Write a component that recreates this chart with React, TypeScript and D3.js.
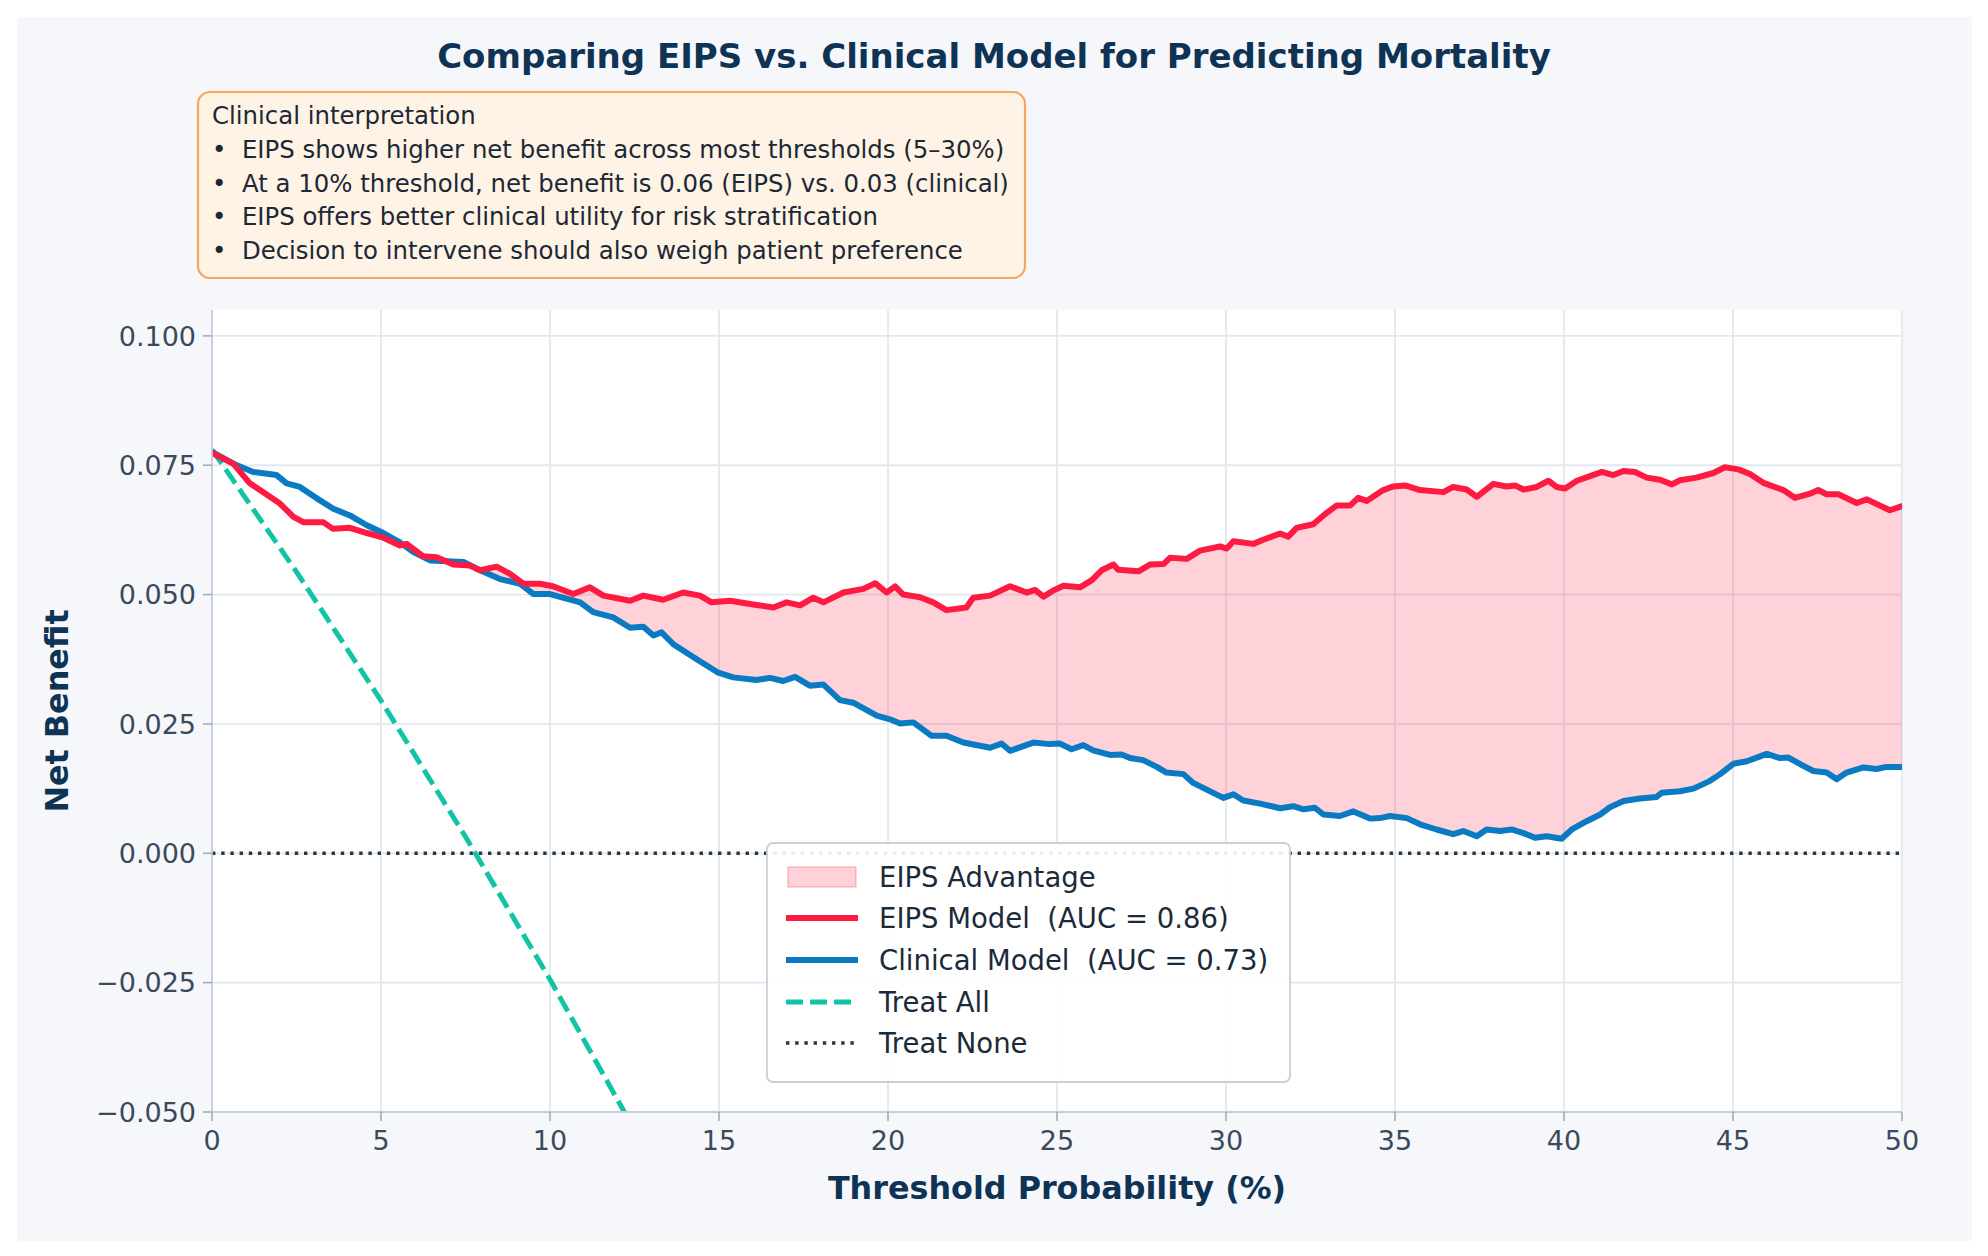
import React from "react";
import * as d3 from "d3";

// Decision-curve readings (threshold %, net benefit)
const EIPS_CURVE: [number, number][] = [
  [0, 0.0774], [0.63, 0.0753], [1.12, 0.0715], [1.42, 0.0702], [2.01, 0.0676],
  [2.41, 0.065], [2.7, 0.064], [3.29, 0.064], [3.58, 0.0627], [4.08, 0.0629],
  [4.58, 0.0619], [5.07, 0.061], [5.56, 0.0595], [5.76, 0.0598], [6.25, 0.0574],
  [6.65, 0.0572], [7.14, 0.0558], [7.63, 0.0556], [7.93, 0.0547], [8.42, 0.0554],
  [8.82, 0.054], [9.21, 0.0521], [9.7, 0.0521], [10.09, 0.0516], [10.69, 0.0501],
  [11.18, 0.0514], [11.58, 0.0498], [12.37, 0.0488], [12.76, 0.0498], [13.35, 0.049],
  [13.94, 0.0504], [14.44, 0.0498], [14.78, 0.0485], [15.33, 0.0488], [16.11, 0.048],
  [16.61, 0.0475], [17.0, 0.0485], [17.4, 0.0479], [17.79, 0.0494], [18.09, 0.0485],
  [18.68, 0.0504], [19.27, 0.0511], [19.62, 0.0522], [19.96, 0.0504], [20.21, 0.0516],
  [20.45, 0.05], [20.95, 0.0495], [21.34, 0.0485], [21.73, 0.047], [22.32, 0.0475],
  [22.52, 0.0494], [23.02, 0.0498], [23.61, 0.0516], [24.1, 0.0504], [24.35, 0.0509],
  [24.6, 0.0496], [24.89, 0.0508], [25.19, 0.0517], [25.68, 0.0514], [26.03, 0.0528],
  [26.32, 0.0547], [26.67, 0.0558], [26.81, 0.0548], [27.41, 0.0545], [27.75, 0.0558],
  [28.15, 0.0559], [28.34, 0.0571], [28.84, 0.0569], [29.23, 0.0585], [29.82, 0.0593],
  [30.02, 0.0589], [30.22, 0.0603], [30.81, 0.0598], [31.1, 0.0606], [31.6, 0.0618],
  [31.84, 0.0612], [32.09, 0.0629], [32.58, 0.0636], [32.98, 0.0658], [33.27, 0.0672],
  [33.67, 0.0672], [33.91, 0.0687], [34.16, 0.0681], [34.65, 0.0702], [34.95, 0.0709],
  [35.3, 0.0711], [35.74, 0.0702], [36.43, 0.0698], [36.72, 0.0708], [37.12, 0.0703],
  [37.42, 0.0689], [37.91, 0.0714], [38.3, 0.0709], [38.55, 0.0711], [38.8, 0.0703],
  [39.19, 0.0708], [39.54, 0.072], [39.78, 0.0708], [40.03, 0.0705], [40.38, 0.072],
  [40.77, 0.0729], [41.12, 0.0737], [41.46, 0.0731], [41.76, 0.0739], [42.1, 0.0737],
  [42.45, 0.0726], [42.84, 0.0722], [43.19, 0.0713], [43.43, 0.0721], [43.92, 0.0726],
  [44.42, 0.0735], [44.76, 0.0746], [45.16, 0.0742], [45.5, 0.0733], [45.9, 0.0716],
  [46.49, 0.0702], [46.83, 0.0687], [47.28, 0.0695], [47.52, 0.0702], [47.77, 0.0694],
  [48.12, 0.0694], [48.66, 0.0677], [48.96, 0.0684], [49.64, 0.0663], [50.0, 0.0671],
];

const CLINICAL_CURVE: [number, number][] = [
  [0, 0.0776], [0.63, 0.0753], [1.22, 0.0737], [1.91, 0.0731], [2.21, 0.0715],
  [2.6, 0.0708], [3.1, 0.0686], [3.59, 0.0666], [4.08, 0.0653], [4.58, 0.0634],
  [5.07, 0.0619], [5.56, 0.0601], [5.96, 0.0582], [6.45, 0.0566], [7.44, 0.0563],
  [7.93, 0.0547], [8.52, 0.053], [9.11, 0.0521], [9.51, 0.0501], [10.0, 0.0501],
  [10.49, 0.0492], [10.89, 0.0485], [11.28, 0.0466], [11.87, 0.0456], [12.37, 0.0436],
  [12.76, 0.0438], [13.06, 0.0421], [13.3, 0.0427], [13.65, 0.0404], [14.34, 0.0375],
  [14.98, 0.0349], [15.42, 0.034], [16.11, 0.0335], [16.51, 0.0339], [16.9, 0.0333],
  [17.25, 0.0341], [17.69, 0.0324], [18.09, 0.0326], [18.58, 0.0296], [18.97, 0.0291],
  [19.67, 0.0266], [20.06, 0.0259], [20.36, 0.0251], [20.75, 0.0253], [21.29, 0.0227],
  [21.73, 0.0227], [22.23, 0.0214], [23.02, 0.0204], [23.36, 0.0212], [23.61, 0.0198],
  [24.3, 0.0214], [24.79, 0.0211], [25.09, 0.0212], [25.43, 0.0201], [25.78, 0.0209],
  [26.07, 0.0199], [26.57, 0.019], [26.91, 0.0191], [27.16, 0.0184], [27.55, 0.018],
  [27.95, 0.0167], [28.24, 0.0156], [28.74, 0.0153], [29.03, 0.0136], [29.43, 0.0123],
  [29.92, 0.0107], [30.22, 0.0114], [30.51, 0.0102], [31.01, 0.0096], [31.6, 0.0087],
  [31.99, 0.0091], [32.29, 0.0085], [32.63, 0.0088], [32.88, 0.0075], [33.37, 0.0072],
  [33.77, 0.0081], [34.26, 0.0067], [34.56, 0.0068], [34.85, 0.0072], [35.35, 0.0068],
  [35.74, 0.0056], [36.23, 0.0046], [36.72, 0.0037], [37.02, 0.0043], [37.42, 0.0033],
  [37.71, 0.0046], [38.11, 0.0043], [38.45, 0.0046], [38.8, 0.0039], [39.14, 0.003],
  [39.49, 0.0033], [39.93, 0.0028], [40.23, 0.0046], [40.67, 0.0062], [41.07, 0.0075],
  [41.36, 0.0089], [41.76, 0.0101], [42.25, 0.0106], [42.74, 0.0109], [42.89, 0.0117],
  [43.43, 0.012], [43.83, 0.0125], [44.32, 0.014], [44.62, 0.0153], [45.01, 0.0173],
  [45.41, 0.0178], [45.7, 0.0185], [46.0, 0.0192], [46.39, 0.0184], [46.64, 0.0185],
  [47.08, 0.0169], [47.38, 0.0159], [47.77, 0.0156], [48.07, 0.0143], [48.36, 0.0156],
  [48.86, 0.0166], [49.25, 0.0163], [49.54, 0.0167], [50.0, 0.0167],
];

const TREAT_ALL: [number, number][] = [
  [0, 0.078], [2.5, 0.0544], [5, 0.0295], [7.5, 0.0032], [10, -0.0244], [12.2, -0.05], [13, -0.0598],
];

const X_TICKS = [0, 5, 10, 15, 20, 25, 30, 35, 40, 45, 50];
const Y_TICKS = [-0.05, -0.025, 0, 0.025, 0.05, 0.075, 0.1];

const NOTE_TITLE = "Clinical interpretation";
const NOTE_LINES = [
  "EIPS shows higher net benefit across most thresholds (5\u201330%)",
  "At a 10% threshold, net benefit is 0.06 (EIPS) vs. 0.03 (clinical)",
  "EIPS offers better clinical utility for risk stratification",
  "Decision to intervene should also weigh patient preference",
];

const LEGEND_LABELS = [
  "EIPS Advantage",
  "EIPS Model  (AUC = 0.86)",
  "Clinical Model  (AUC = 0.73)",
  "Treat All",
  "Treat None",
];

const W = 1988;
const H = 1256;
const FONT = "DejaVu Sans, sans-serif";
const NAVY = "#0f3354";
const RED = "#ff1a42";
const BLUE = "#0a7bc2";
const TEAL = "#12c4a6";
const LW = 6;

const x = d3.scaleLinear().domain([0, 50]).range([212, 1902]);
const y = d3.scaleLinear().domain([-0.05, 0.105]).range([1112, 310]);

// linear lookup used to build the shaded band between the two curves
function interp(curve: [number, number][], t: number) {
  const i = d3.bisector((d: [number, number]) => d[0]).left(curve, t);
  if (i <= 0) return curve[0][1];
  if (i >= curve.length) return curve[curve.length - 1][1];
  const [x0, y0] = curve[i - 1];
  const [x1, y1] = curve[i];
  return y0 + ((y1 - y0) * (t - x0)) / (x1 - x0);
}

function bandPoints() {
  const xs = Array.from(new Set([...EIPS_CURVE.map((d) => d[0]), ...CLINICAL_CURVE.map((d) => d[0])])).sort(
    (a, b) => a - b
  );
  const pts: { t: number; lo: number; hi: number }[] = [];
  let prev: { t: number; diff: number } | null = null;
  xs.forEach((t) => {
    const r = interp(EIPS_CURVE, t);
    const b = interp(CLINICAL_CURVE, t);
    const diff = r - b;
    if (prev && prev.diff * diff < 0) {
      const tc = prev.t + ((t - prev.t) * prev.diff) / (prev.diff - diff);
      const bc = interp(CLINICAL_CURVE, tc);
      pts.push({ t: tc, lo: bc, hi: bc });
    }
    pts.push({ t, lo: b, hi: Math.max(r, b) });
    prev = { t, diff };
  });
  return pts;
}

export default function App() {
  const line = d3
    .line<[number, number]>()
    .x((d) => x(d[0]))
    .y((d) => y(d[1]));
  const band = d3
    .area<{ t: number; lo: number; hi: number }>()
    .x((d) => x(d.t))
    .y0((d) => y(d.lo))
    .y1((d) => y(d.hi));

  const [x0, x1] = x.range();
  const [yb, yt] = y.range();
  const legendRows = [877, 918, 960, 1002, 1043];

  return (
    <div style={{ position: "absolute", left: 0, top: 0 }}>
      <svg width={W} height={H} style={{ display: "block", fontFamily: FONT }}>
        <rect width={W} height={H} fill="#ffffff" />
        <rect x={17} y={17} width={1955} height={1224} fill="#f5f7fb" />

        <text x={W / 2} y={68} textAnchor="middle" fontSize={34} fontWeight="bold" fill={NAVY}>
          Comparing EIPS vs. Clinical Model for Predicting Mortality
        </text>

        {/* interpretation box */}
        <rect x={198} y={92} width={827} height={186} rx={12} fill="#fef3e4" stroke="#f7a65c" strokeWidth={2.2} />
        <text x={212} y={124} fontSize={24.4} fill="#1d2836">
          {NOTE_TITLE}
        </text>
        {NOTE_LINES.map((s, i) => (
          <text key={s} x={212} y={158 + i * 33.7} fontSize={24.4} fill="#1d2836" xmlSpace="preserve">
            {"\u2022  " + s}
          </text>
        ))}

        {/* plot area */}
        <rect x={x0} y={yt} width={x1 - x0} height={yb - yt} fill="#ffffff" />
        <defs>
          <clipPath id="plotClip">
            <rect x={x0} y={yt} width={x1 - x0} height={yb - yt} />
          </clipPath>
        </defs>
        {X_TICKS.map((t) => (
          <line key={"gx" + t} x1={x(t)} x2={x(t)} y1={yt} y2={yb} stroke="#e2e8f0" strokeWidth={1.8} />
        ))}
        {Y_TICKS.map((t) => (
          <line key={"gy" + t} x1={x0} x2={x1} y1={y(t)} y2={y(t)} stroke="#e2e8f0" strokeWidth={1.8} />
        ))}

        <g clipPath="url(#plotClip)">
          <path d={band(bandPoints()) || ""} fill={RED} fillOpacity={0.2} />
          <line
            x1={x0}
            x2={x1}
            y1={y(0)}
            y2={y(0)}
            stroke="#2b3645"
            strokeWidth={3.4}
            strokeDasharray="3.4 5.8"
          />
          <path d={line(TREAT_ALL) || ""} fill="none" stroke={TEAL} strokeWidth={5} strokeDasharray="17 7" />
          <path d={line(CLINICAL_CURVE) || ""} fill="none" stroke={BLUE} strokeWidth={LW} strokeLinejoin="round" strokeLinecap="round" />
          <path d={line(EIPS_CURVE) || ""} fill="none" stroke={RED} strokeWidth={LW} strokeLinejoin="round" strokeLinecap="round" />
        </g>

        {/* spines and ticks */}
        <line x1={x0} x2={x0} y1={yt} y2={yb} stroke="#c5ced9" strokeWidth={1.8} />
        <line x1={x0} x2={x1} y1={yb} y2={yb} stroke="#c5ced9" strokeWidth={1.8} />
        {X_TICKS.map((t) => (
          <g key={"tx" + t}>
            <line x1={x(t)} x2={x(t)} y1={yb} y2={yb + 9} stroke="#a3adb9" strokeWidth={1.6} />
            <text x={x(t)} y={1150} textAnchor="middle" fontSize={27} fill="#3b4a5b">
              {t}
            </text>
          </g>
        ))}
        {Y_TICKS.map((t) => (
          <g key={"ty" + t}>
            <line x1={x0 - 9} x2={x0} y1={y(t)} y2={y(t)} stroke="#a3adb9" strokeWidth={1.6} />
            <text x={x0 - 16} y={y(t)} dy="0.36em" textAnchor="end" fontSize={27} fill="#3b4a5b">
              {d3.format(".3f")(t).replace("-", "\u2212")}
            </text>
          </g>
        ))}

        <text x={(x0 + x1) / 2} y={1199} textAnchor="middle" fontSize={31.8} fontWeight="bold" fill={NAVY}>
          Threshold Probability (%)
        </text>
        <text
          transform={`translate(68, ${(yt + yb) / 2}) rotate(-90)`}
          textAnchor="middle"
          fontSize={31.8}
          fontWeight="bold"
          fill={NAVY}
        >
          Net Benefit
        </text>

        {/* legend */}
        <rect x={767} y={843} width={523} height={239} rx={6} fill="#ffffff" fillOpacity={0.9} stroke="#c8d0da" strokeWidth={1.8} />
        <rect x={788} y={867} width={68} height={20} fill={RED} fillOpacity={0.2} stroke={RED} strokeOpacity={0.25} strokeWidth={1.5} />
        <line x1={786} x2={858} y1={legendRows[1]} y2={legendRows[1]} stroke={RED} strokeWidth={LW} />
        <line x1={786} x2={858} y1={legendRows[2]} y2={legendRows[2]} stroke={BLUE} strokeWidth={LW} />
        <line x1={786} x2={858} y1={legendRows[3]} y2={legendRows[3]} stroke={TEAL} strokeWidth={5} strokeDasharray="17 7" />
        <line x1={786} x2={858} y1={legendRows[4]} y2={legendRows[4]} stroke="#2b3645" strokeWidth={3.4} strokeDasharray="3.4 5.8" />
        {LEGEND_LABELS.map((s, i) => (
          <text key={s} x={879} y={legendRows[i]} dy="0.36em" fontSize={27.5} fill="#1b2a3b" xmlSpace="preserve">
            {s}
          </text>
        ))}
      </svg>
    </div>
  );
}
